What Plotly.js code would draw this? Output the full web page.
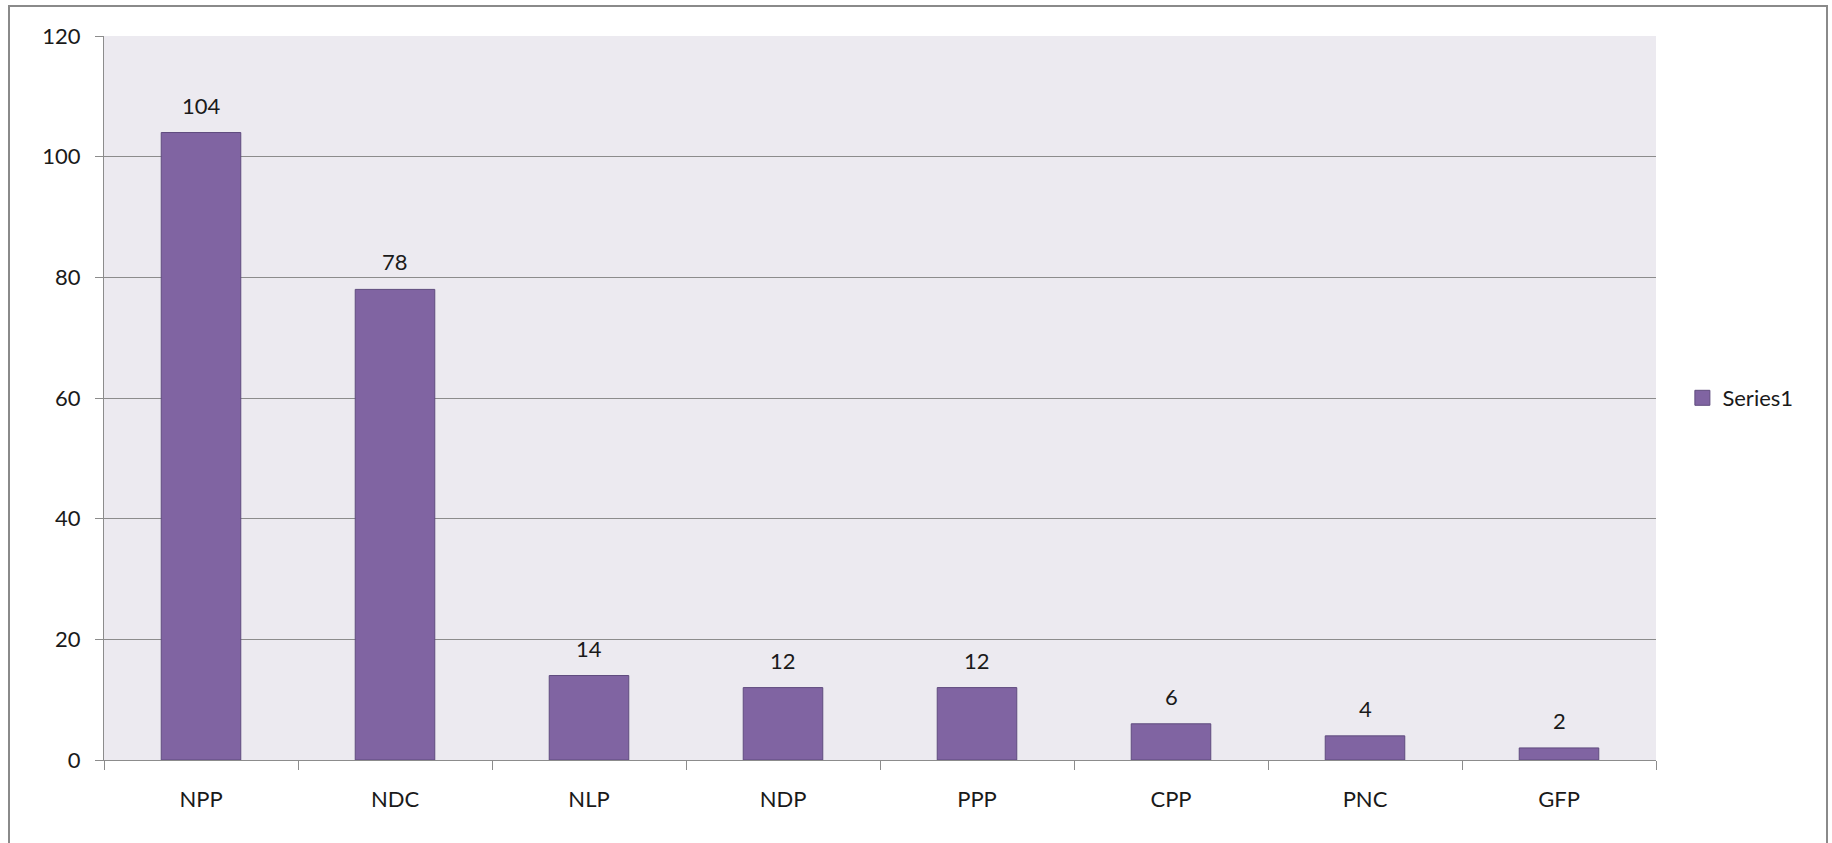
<!DOCTYPE html>
<html>
<head>
<meta charset="utf-8">
<script src="https://cdn.plot.ly/plotly-3.0.1.min.js"></script>
<style>
html,body{margin:0;padding:0;background:#fff;}
#wrap{position:relative;width:1832px;height:843px;}
#chart{position:absolute;left:0;top:0;width:1832px;height:843px;}
#frame{position:absolute;left:8px;top:5px;width:1816px;height:860px;border:2px solid #8a8a8a;pointer-events:none;}
</style>
</head>
<body>
<div id="wrap">
<div id="chart"></div>
<div id="frame"></div>
</div>
<script>
const categories = ["NPP","NDC","NLP","NDP","PPP","CPP","PNC","GFP"];
const values = [104,78,14,12,12,6,4,2];
const seriesName = "Series1";

const FONT = "Lato, 'Open Sans', sans-serif";
const BAR_COLOR = "#8064A2";
const BAR_LINE = "#5F4B7E";

const trace = {
  type: "bar",
  x: categories,
  y: values,
  name: seriesName,
  showlegend: false,
  marker: {color: BAR_COLOR, line: {color: BAR_LINE, width: 1}},
  hoverinfo: "x+y"
};

// legend entry with a larger square swatch
const legendTrace = {
  type: "scatter", mode: "markers",
  x: [null], y: [null],
  name: seriesName, showlegend: true,
  marker: {symbol: "square", size: 15, color: BAR_COLOR, line: {color: BAR_LINE, width: 1}}
};

const annotations = categories.map((c, i) => ({
  x: c, y: values[i], xref: "x", yref: "y",
  text: String(values[i]), showarrow: false,
  yanchor: "bottom", yshift: 12,
  font: {family: FONT, size: 22, color: "#1a1a1a"}
}));

const layout = {
  width: 1832, height: 843,
  margin: {l: 104, r: 176, t: 36, b: 83},
  paper_bgcolor: "#ffffff",
  plot_bgcolor: "#ECEAF0",
  bargap: 0.59,
  font: {family: FONT, size: 22, color: "#1a1a1a"},
  xaxis: {
    type: "category",
    tickson: "boundaries",
    ticks: "outside", ticklen: 9, tickcolor: "#8c8c8c", tickwidth: 1,
    showgrid: false,
    showline: true, linecolor: "#8c8c8c", linewidth: 1,
    tickfont: {family: FONT, size: 22, color: "#1a1a1a"},
    ticklabelstandoff: 20
  },
  yaxis: {
    range: [0, 120], dtick: 20, tick0: 0,
    ticks: "outside", ticklen: 8, tickcolor: "#8c8c8c", tickwidth: 1,
    showgrid: true, gridcolor: "#8c8c8c", gridwidth: 1,
    showline: true, linecolor: "#8c8c8c", linewidth: 1,
    zeroline: false,
    tickfont: {family: FONT, size: 22, color: "#1a1a1a"},
    ticklabelstandoff: 10
  },
  showlegend: true,
  legend: {
    x: 1.017, y: 0.5, xanchor: "left", yanchor: "middle",
    font: {family: FONT, size: 22, color: "#1a1a1a"},
    bgcolor: "rgba(0,0,0,0)", itemwidth: 30
  },
  annotations: annotations
};

Plotly.newPlot("chart", [trace, legendTrace], layout, {displayModeBar: false, staticPlot: true});
</script>
</body>
</html>
